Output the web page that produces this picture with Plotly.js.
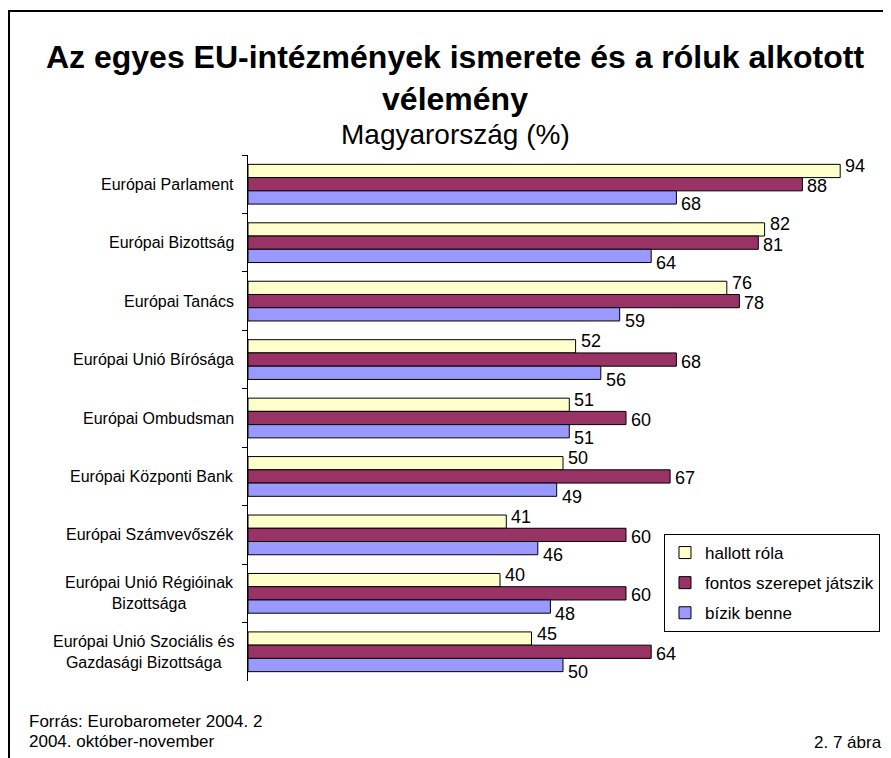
<!DOCTYPE html>
<html>
<head>
<meta charset="utf-8">
<script src="https://cdn.plot.ly/plotly-3.0.1.min.js"></script>
<style>
  html, body { margin: 0; padding: 0; background: #fff; }
  #wrap { position: relative; width: 891px; height: 758px; overflow: hidden; }
  #chart { width: 891px; height: 758px; }
  #frame { position: absolute; left: 8px; top: 10px; width: 873px; height: 760px;
           border-left: 2px solid #000; border-top: 2px solid #000; pointer-events: none; }
</style>
</head>
<body>
<div id="wrap">
<div id="chart"></div>
<div id="frame"></div>
</div>
<script>
const categories = [
  "Európai Parlament",
  "Európai Bizottság",
  "Európai Tanács",
  "Európai Unió Bírósága",
  "Európai Ombudsman",
  "Európai Központi Bank",
  "Európai Számvevőszék",
  "Európai Unió Régióinak<br>Bizottsága",
  "Európai Unió Szociális és<br>Gazdasági Bizottsága"
];
const seriesNames = ["hallott róla", "fontos szerepet játszik", "bízik benne"];
const hallottRola = [94, 82, 76, 52, 51, 50, 41, 40, 45];
const fontosSzerepet = [88, 81, 78, 68, 60, 67, 60, 60, 64];
const bizikBenne = [68, 64, 59, 56, 51, 49, 46, 48, 50];
const seriesValues = [hallottRola, fontosSzerepet, bizikBenne];
const seriesColors = ["#FFFFCC", "#993366", "#9999FF"];

const titleText = "Az egyes EU-intézmények ismerete és a róluk alkotott";
const titleText2 = "vélemény";
const subtitleText = "Magyarország (%)";
const sourceLine1 = "Forrás: Eurobarometer 2004. 2";
const sourceLine2 = "2004. október-november";
const figureLabel = "2. 7 ábra";

const FONT = "'Liberation Sans', Arial, Helvetica, sans-serif";
const W = 891, H = 758;
const M = {l: 248, r: 11, t: 155, b: 77};
const PW = W - M.l - M.r, PH = H - M.t - M.b;
const px2x = p => (p - M.l) / PW;
const px2y = p => (H - M.b - p) / PH;

const BARGAP = 0.32;
const barW = (1 - BARGAP) / 3;

const traces = seriesValues.map((vals, i) => ({
  type: "bar",
  orientation: "h",
  name: seriesNames[i],
  legendgroup: "g" + i,
  y: categories,
  x: vals,
  marker: {color: seriesColors[i], line: {color: "#000", width: 1}},
  hoverinfo: "x+y+name"
}));

const annotations = [];
// data labels
const labelShift = [5, -2, -7];
seriesValues.forEach((vals, i) => {
  vals.forEach((v, j) => {
    annotations.push({
      x: v, y: j + (i - 1) * barW, xref: "x", yref: "y",
      text: String(v), showarrow: false,
      xanchor: "left", yanchor: "middle", xshift: 3, yshift: labelShift[i],
      font: {family: FONT, size: 18, color: "#000"}
    });
  });
});
// category labels
categories.forEach((c, j) => {
  annotations.push({
    x: 0, y: j, xref: "paper", yref: "y",
    text: c, showarrow: false, align: "center",
    xanchor: "right", yanchor: "middle", xshift: -12,
    font: {family: FONT, size: 16, color: "#000"}
  });
});
// subtitle
annotations.push({
  x: px2x(456), y: px2y(134), xref: "paper", yref: "paper",
  text: subtitleText, showarrow: false, xanchor: "center", yanchor: "middle",
  font: {family: FONT, size: 28, color: "#000"}
});
// footer
annotations.push({
  x: px2x(26), y: px2y(721), xref: "paper", yref: "paper",
  text: sourceLine1, showarrow: false, xanchor: "left", yanchor: "middle",
  font: {family: FONT, size: 17, color: "#000"}
});
annotations.push({
  x: px2x(26), y: px2y(741), xref: "paper", yref: "paper",
  text: sourceLine2, showarrow: false, xanchor: "left", yanchor: "middle",
  font: {family: FONT, size: 17, color: "#000"}
});
annotations.push({
  x: px2x(886), y: px2y(742), xref: "paper", yref: "paper",
  text: figureLabel, showarrow: false, xanchor: "right", yanchor: "middle",
  font: {family: FONT, size: 17, color: "#000"}
});

const layout = {
  width: W, height: H, autosize: false,
  margin: M,
  paper_bgcolor: "#fff", plot_bgcolor: "#fff",
  font: {family: FONT, color: "#000"},
  title: {
    text: "<b>" + titleText + "</b><br><b>" + titleText2 + "</b>",
    font: {family: FONT, size: 32, color: "#000"},
    x: 455 / W, xref: "container", xanchor: "center",
    y: 1 - 68 / H, yref: "container", yanchor: "top"
  },
  barmode: "group",
  bargap: BARGAP,
  bargroupgap: 0,
  xaxis: {range: [0, 100], visible: false, fixedrange: true},
  yaxis: {
    type: "category", autorange: "reversed",
    showline: true, linecolor: "#000", linewidth: 1,
    ticks: "outside", ticklen: 5, tickcolor: "#000", tickwidth: 1,
    tickson: "boundaries", showticklabels: false,
    showgrid: false, zeroline: false, fixedrange: true
  },
  showlegend: true,
  legend: {
    x: px2x(882), xanchor: "right", y: px2y(534), yanchor: "top",
    bgcolor: "#fff", bordercolor: "#000", borderwidth: 1,
    font: {family: FONT, size: 17, color: "#000"},
    traceorder: "grouped", tracegroupgap: 5
  },
  annotations: annotations
};

Plotly.newPlot("chart", traces, layout, {displayModeBar: false, staticPlot: true});
</script>
</body>
</html>
